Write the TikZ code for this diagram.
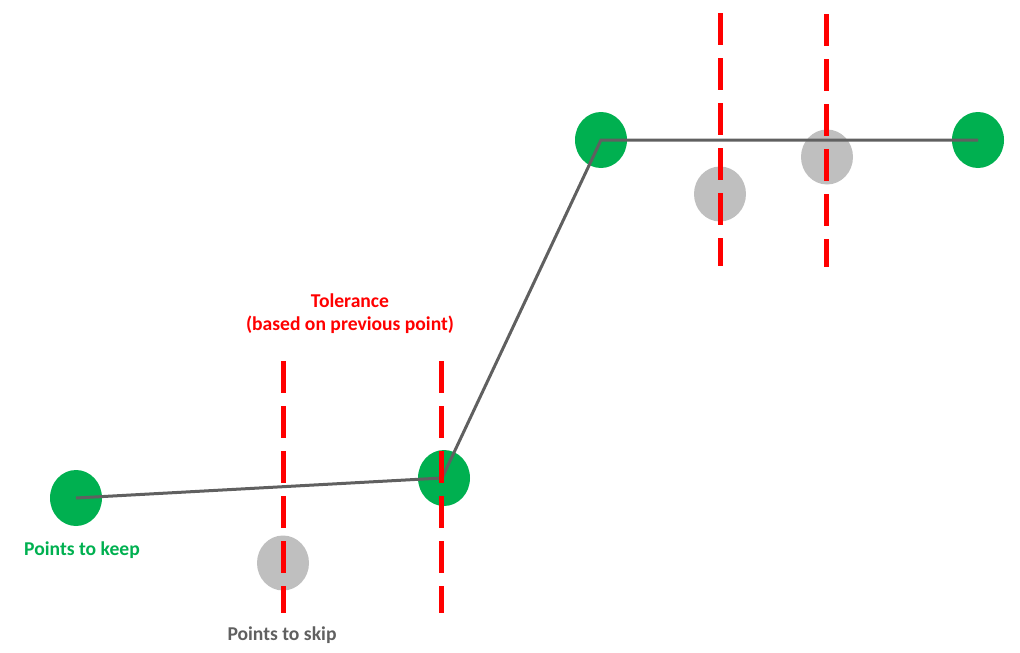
\documentclass[tikz,border=0pt]{standalone}
\usepackage{fontspec}
\setmainfont{Carlito}
\usetikzlibrary{shapes.geometric}
\definecolor{keepgreen}{HTML}{00B050}
\definecolor{skipgray}{HTML}{BFBFBF}
\definecolor{linegray}{HTML}{606060}
\begin{document}
\begin{tikzpicture}[x=1pt,y=-1pt,
  keep/.style={ellipse,fill=keepgreen,minimum width=52pt,minimum height=56pt,inner sep=0pt},
  skip/.style={ellipse,fill=skipgray,minimum width=52pt,minimum height=55pt,inner sep=0pt},
  tol/.style={red,line width=5pt,dash pattern=on 32pt off 13pt},
  path/.style={linegray,line width=3pt},
  lbl/.style={font=\fontsize{19.6}{23}\selectfont\bfseries,align=center,inner sep=0pt}]
\useasboundingbox (0,0) rectangle (1020,653);
\node[keep] (k1) at (76,498) {};
\node[keep] (k2) at (444,478) {};
\node[keep] (k3) at (601,140) {};
\node[keep] (k4) at (978,140) {};
\node[skip] (s1) at (283,563) {};
\node[skip] (s2) at (720,194) {};
\node[skip] (s3) at (827,157) {};
\coordinate (p1) at (76,498);
\coordinate (p2) at (442,478);
\coordinate (p3) at (601,140);
\coordinate (p4) at (978,140);
\draw[path] (p1) -- (p2) -- (p3) -- (p4);
\coordinate (t1a) at (283,361); \coordinate (t1b) at (283,613);
\coordinate (t2a) at (441,361); \coordinate (t2b) at (441,613);
\coordinate (t3a) at (720,13); \coordinate (t3b) at (720,266);
\coordinate (t4a) at (826,14); \coordinate (t4b) at (826,267);
\draw[tol] (t1a) -- (t1b);
\draw[tol] (t2a) -- (t2b);
\draw[tol] (t3a) -- (t3b);
\draw[tol] (t4a) -- (t4b);
\node[lbl,text=keepgreen] (lk) at (82,550) {Points to keep};
\node[lbl,text=linegray] (ls) at (282,635) {Points to skip};
\node[lbl,text=red] (lt) at (350,314) {Tolerance\\(based on previous point)};
\end{tikzpicture}
\end{document}
